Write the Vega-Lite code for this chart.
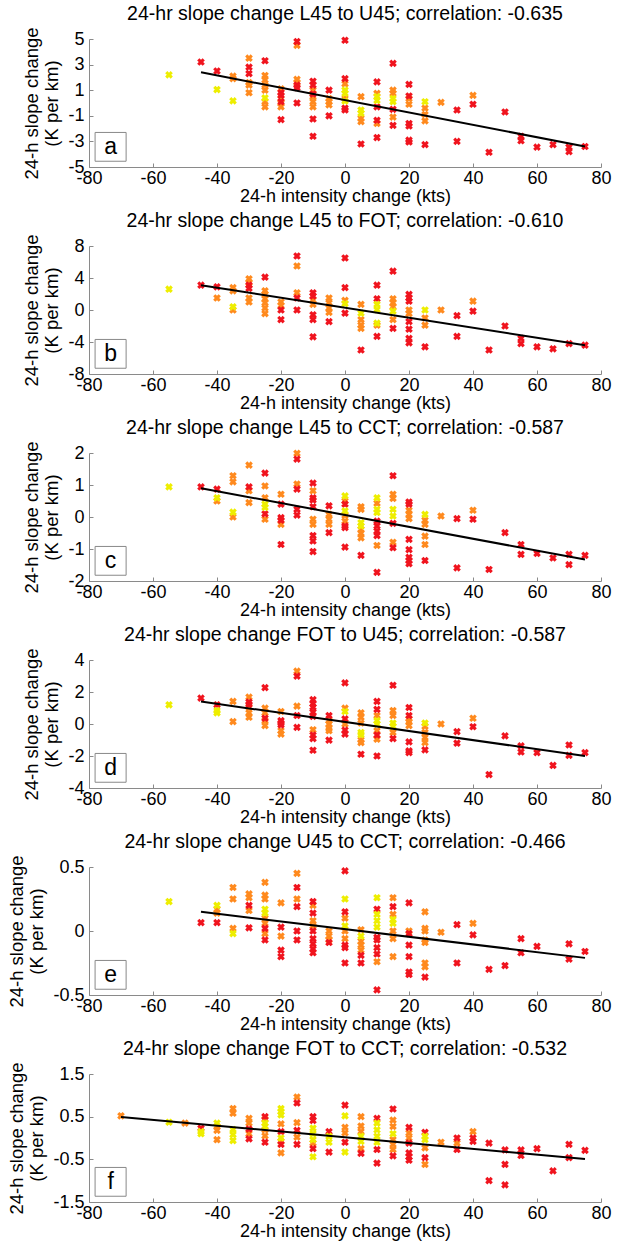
{
"$schema": "https://vega.github.io/schema/vega-lite/v6.json",
"padding": {"left": 7, "top": 4, "right": 5, "bottom": 2},
"config": {
 "font": "Liberation Sans",
 "view": {"stroke": null},
 "concat": {"spacing": 6},
 "title": {"fontSize": 19.5, "fontWeight": "normal", "color": "black", "offset": 2, "anchor": "middle", "frame": "group"},
 "axis": {"domainColor": "#8a8a8a", "tickColor": "#8a8a8a", "tickSize": -4, "labelFontSize": 18, "labelColor": "black", "titleFontSize": 18.5, "titleColor": "black", "titleFontWeight": "normal", "grid": false, "labelOverlap": false, "labelBound": false, "labelFlush": false, "tickCount": 20},
 "axisX": {"labelPadding": 6, "titlePadding": 0, "titleFontSize": 18},
 "axisY": {"labelPadding": 9, "titlePadding": 6}
},
"resolve": {"scale": {"x": "independent", "y": "independent"}},
"datasets": {
"pts": [
{"p":"a","x":-55,"y":2.2,"c":"y"},{"p":"a","x":-45,"y":3.2,"c":"r"},{"p":"a","x":-40,"y":2.5,"c":"r"},{"p":"a","x":-40,"y":1.05,"c":"y"},{"p":"a","x":-35,"y":2.1,"c":"o"},{"p":"a","x":-35,"y":1.9,"c":"o"},{"p":"a","x":-35,"y":0.17,"c":"y"},
{"p":"a","x":-30,"y":3.5,"c":"o"},{"p":"a","x":-30,"y":2.8,"c":"r"},{"p":"a","x":-30,"y":2.3,"c":"r"},{"p":"a","x":-30,"y":1.6,"c":"o"},{"p":"a","x":-30,"y":1.4,"c":"o"},{"p":"a","x":-30,"y":0.8,"c":"o"},
{"p":"a","x":-25,"y":3.3,"c":"r"},{"p":"a","x":-25,"y":2.15,"c":"o"},{"p":"a","x":-25,"y":1.8,"c":"o"},{"p":"a","x":-25,"y":1.4,"c":"o"},{"p":"a","x":-25,"y":1.0,"c":"o"},{"p":"a","x":-25,"y":0.4,"c":"y"},{"p":"a","x":-25,"y":0.1,"c":"o"},{"p":"a","x":-25,"y":-0.3,"c":"o"},
{"p":"a","x":-20,"y":1.1,"c":"o"},{"p":"a","x":-20,"y":0.8,"c":"r"},{"p":"a","x":-20,"y":0.6,"c":"r"},{"p":"a","x":-20,"y":0.35,"c":"o"},{"p":"a","x":-20,"y":0.1,"c":"r"},{"p":"a","x":-20,"y":0,"c":"o"},{"p":"a","x":-20,"y":-0.3,"c":"o"},{"p":"a","x":-20,"y":-1.3,"c":"r"},
{"p":"a","x":-15,"y":4.8,"c":"r"},{"p":"a","x":-15,"y":4.5,"c":"o"},{"p":"a","x":-15,"y":1.85,"c":"o"},{"p":"a","x":-15,"y":1.6,"c":"o"},{"p":"a","x":-15,"y":1.4,"c":"r"},{"p":"a","x":-15,"y":1.2,"c":"r"},{"p":"a","x":-15,"y":0,"c":"r"},
{"p":"a","x":-10,"y":1.7,"c":"r"},{"p":"a","x":-10,"y":1.4,"c":"r"},{"p":"a","x":-10,"y":1.0,"c":"o"},{"p":"a","x":-10,"y":0.7,"c":"r"},{"p":"a","x":-10,"y":0.5,"c":"o"},{"p":"a","x":-10,"y":0.1,"c":"o"},{"p":"a","x":-10,"y":-0.3,"c":"o"},{"p":"a","x":-10,"y":-1.25,"c":"r"},{"p":"a","x":-10,"y":-2.6,"c":"r"},
{"p":"a","x":-5,"y":1.0,"c":"r"},{"p":"a","x":-5,"y":0.35,"c":"o"},{"p":"a","x":-5,"y":0.1,"c":"o"},{"p":"a","x":-5,"y":-0.15,"c":"o"},{"p":"a","x":-5,"y":-1.0,"c":"r"},
{"p":"a","x":0,"y":4.9,"c":"r"},{"p":"a","x":0,"y":1.9,"c":"r"},{"p":"a","x":0,"y":1.5,"c":"o"},{"p":"a","x":0,"y":1.0,"c":"y"},{"p":"a","x":0,"y":0.75,"c":"y"},{"p":"a","x":0,"y":0.35,"c":"o"},{"p":"a","x":0,"y":0.15,"c":"y"},{"p":"a","x":0,"y":-0.4,"c":"r"},{"p":"a","x":0,"y":-0.55,"c":"r"},
{"p":"a","x":5,"y":0.5,"c":"o"},{"p":"a","x":5,"y":-0.55,"c":"y"},{"p":"a","x":5,"y":-0.8,"c":"y"},{"p":"a","x":5,"y":-1.2,"c":"o"},{"p":"a","x":5,"y":-1.45,"c":"o"},{"p":"a","x":5,"y":-3.2,"c":"r"},
{"p":"a","x":10,"y":1.65,"c":"r"},{"p":"a","x":10,"y":0.75,"c":"o"},{"p":"a","x":10,"y":0.5,"c":"y"},{"p":"a","x":10,"y":0.2,"c":"y"},{"p":"a","x":10,"y":-0.3,"c":"r"},{"p":"a","x":10,"y":-1.35,"c":"r"},{"p":"a","x":10,"y":-1.6,"c":"o"},{"p":"a","x":10,"y":-2.7,"c":"r"},
{"p":"a","x":15,"y":3.1,"c":"r"},{"p":"a","x":15,"y":1.0,"c":"o"},{"p":"a","x":15,"y":0.75,"c":"o"},{"p":"a","x":15,"y":0.35,"c":"y"},{"p":"a","x":15,"y":0.1,"c":"y"},{"p":"a","x":15,"y":-0.5,"c":"r"},{"p":"a","x":15,"y":-1.1,"c":"o"},{"p":"a","x":15,"y":-1.75,"c":"r"},
{"p":"a","x":20,"y":1.45,"c":"r"},{"p":"a","x":20,"y":0.55,"c":"r"},{"p":"a","x":20,"y":0.35,"c":"o"},{"p":"a","x":20,"y":-0.1,"c":"o"},{"p":"a","x":20,"y":-1.6,"c":"r"},{"p":"a","x":20,"y":-1.8,"c":"r"},{"p":"a","x":20,"y":-2.9,"c":"r"},{"p":"a","x":20,"y":-3.05,"c":"r"},
{"p":"a","x":25,"y":0.1,"c":"y"},{"p":"a","x":25,"y":-0.4,"c":"o"},{"p":"a","x":25,"y":-0.9,"c":"o"},{"p":"a","x":25,"y":-1.4,"c":"o"},{"p":"a","x":25,"y":-3.25,"c":"r"},
{"p":"a","x":30,"y":0.05,"c":"o"},{"p":"a","x":35,"y":-0.55,"c":"r"},{"p":"a","x":35,"y":-3.0,"c":"r"},{"p":"a","x":40,"y":0.6,"c":"o"},{"p":"a","x":40,"y":-0.1,"c":"r"},{"p":"a","x":45,"y":-3.85,"c":"r"},{"p":"a","x":50,"y":-0.7,"c":"r"},
{"p":"a","x":55,"y":-2.6,"c":"r"},{"p":"a","x":55,"y":-2.95,"c":"r"},{"p":"a","x":60,"y":-3.45,"c":"r"},{"p":"a","x":65,"y":-3.25,"c":"r"},{"p":"a","x":70,"y":-3.45,"c":"r"},{"p":"a","x":70,"y":-3.8,"c":"r"},{"p":"a","x":75,"y":-3.4,"c":"r"},

{"p":"b","x":-55,"y":2.6,"c":"y"},{"p":"b","x":-45,"y":3.1,"c":"r"},{"p":"b","x":-40,"y":2.9,"c":"r"},{"p":"b","x":-40,"y":1.5,"c":"o"},
{"p":"b","x":-35,"y":2.8,"c":"o"},{"p":"b","x":-35,"y":2.4,"c":"o"},{"p":"b","x":-35,"y":0.4,"c":"y"},{"p":"b","x":-35,"y":0,"c":"o"},
{"p":"b","x":-30,"y":3.9,"c":"o"},{"p":"b","x":-30,"y":3.4,"c":"o"},{"p":"b","x":-30,"y":3.1,"c":"r"},{"p":"b","x":-30,"y":2.7,"c":"r"},{"p":"b","x":-30,"y":1.5,"c":"o"},{"p":"b","x":-30,"y":1.0,"c":"o"},
{"p":"b","x":-25,"y":4.1,"c":"r"},{"p":"b","x":-25,"y":2.4,"c":"o"},{"p":"b","x":-25,"y":1.95,"c":"o"},{"p":"b","x":-25,"y":1.4,"c":"o"},{"p":"b","x":-25,"y":0.9,"c":"o"},{"p":"b","x":-25,"y":0.25,"c":"o"},{"p":"b","x":-25,"y":-0.45,"c":"o"},
{"p":"b","x":-20,"y":1.0,"c":"o"},{"p":"b","x":-20,"y":0.55,"c":"o"},{"p":"b","x":-20,"y":0,"c":"r"},{"p":"b","x":-20,"y":-1.2,"c":"r"},
{"p":"b","x":-15,"y":6.75,"c":"r"},{"p":"b","x":-15,"y":5.5,"c":"o"},{"p":"b","x":-15,"y":2.15,"c":"o"},{"p":"b","x":-15,"y":1.5,"c":"r"},{"p":"b","x":-15,"y":0,"c":"r"},
{"p":"b","x":-10,"y":2.15,"c":"r"},{"p":"b","x":-10,"y":1.75,"c":"r"},{"p":"b","x":-10,"y":1.25,"c":"o"},{"p":"b","x":-10,"y":0.7,"c":"o"},{"p":"b","x":-10,"y":-0.6,"c":"r"},{"p":"b","x":-10,"y":-1.2,"c":"r"},{"p":"b","x":-10,"y":-3.35,"c":"r"},
{"p":"b","x":-5,"y":1.5,"c":"o"},{"p":"b","x":-5,"y":0.9,"c":"o"},{"p":"b","x":-5,"y":0.25,"c":"o"},{"p":"b","x":-5,"y":-0.3,"c":"o"},{"p":"b","x":-5,"y":-1.45,"c":"r"},
{"p":"b","x":0,"y":6.5,"c":"r"},{"p":"b","x":0,"y":2.8,"c":"r"},{"p":"b","x":0,"y":1.2,"c":"o"},{"p":"b","x":0,"y":0.8,"c":"y"},{"p":"b","x":0,"y":-0.4,"c":"r"},
{"p":"b","x":5,"y":0.7,"c":"o"},{"p":"b","x":5,"y":-0.4,"c":"y"},{"p":"b","x":5,"y":-1.2,"c":"o"},{"p":"b","x":5,"y":-1.9,"c":"o"},{"p":"b","x":5,"y":-2.3,"c":"o"},{"p":"b","x":5,"y":-5.0,"c":"r"},
{"p":"b","x":10,"y":3.1,"c":"r"},{"p":"b","x":10,"y":1.4,"c":"r"},{"p":"b","x":10,"y":0.7,"c":"y"},{"p":"b","x":10,"y":0.05,"c":"y"},{"p":"b","x":10,"y":-1.65,"c":"y"},{"p":"b","x":10,"y":-1.9,"c":"o"},{"p":"b","x":10,"y":-3.3,"c":"r"},
{"p":"b","x":15,"y":4.85,"c":"r"},{"p":"b","x":15,"y":1.4,"c":"o"},{"p":"b","x":15,"y":0.9,"c":"o"},{"p":"b","x":15,"y":0.4,"c":"o"},{"p":"b","x":15,"y":-0.15,"c":"y"},{"p":"b","x":15,"y":-1.2,"c":"o"},{"p":"b","x":15,"y":-2.3,"c":"r"},
{"p":"b","x":20,"y":1.95,"c":"r"},{"p":"b","x":20,"y":1.5,"c":"r"},{"p":"b","x":20,"y":1.1,"c":"r"},{"p":"b","x":20,"y":0,"c":"o"},{"p":"b","x":20,"y":-0.45,"c":"o"},{"p":"b","x":20,"y":-1.45,"c":"r"},{"p":"b","x":20,"y":-2.4,"c":"r"},{"p":"b","x":20,"y":-3.55,"c":"r"},{"p":"b","x":20,"y":-4.1,"c":"r"},
{"p":"b","x":25,"y":0,"c":"y"},{"p":"b","x":25,"y":-1.0,"c":"o"},{"p":"b","x":25,"y":-1.9,"c":"o"},{"p":"b","x":25,"y":-4.6,"c":"r"},
{"p":"b","x":30,"y":0,"c":"o"},{"p":"b","x":35,"y":-0.7,"c":"r"},{"p":"b","x":35,"y":-3.3,"c":"r"},{"p":"b","x":40,"y":1.1,"c":"o"},{"p":"b","x":40,"y":-0.15,"c":"r"},{"p":"b","x":45,"y":-5.0,"c":"r"},{"p":"b","x":50,"y":-2.0,"c":"r"},
{"p":"b","x":55,"y":-3.55,"c":"r"},{"p":"b","x":55,"y":-4.2,"c":"r"},{"p":"b","x":60,"y":-4.6,"c":"r"},{"p":"b","x":65,"y":-4.85,"c":"r"},{"p":"b","x":70,"y":-4.2,"c":"r"},{"p":"b","x":75,"y":-4.4,"c":"r"},

{"p":"c","x":-55,"y":0.94,"c":"y"},{"p":"c","x":-45,"y":0.94,"c":"r"},{"p":"c","x":-40,"y":0.87,"c":"r"},{"p":"c","x":-40,"y":0.6,"c":"y"},{"p":"c","x":-40,"y":0.5,"c":"o"},
{"p":"c","x":-35,"y":1.29,"c":"o"},{"p":"c","x":-35,"y":1.1,"c":"o"},{"p":"c","x":-35,"y":0.15,"c":"y"},{"p":"c","x":-35,"y":0,"c":"o"},
{"p":"c","x":-30,"y":1.62,"c":"o"},{"p":"c","x":-30,"y":0.94,"c":"r"},{"p":"c","x":-30,"y":0.82,"c":"o"},{"p":"c","x":-30,"y":0.45,"c":"o"},
{"p":"c","x":-25,"y":1.37,"c":"r"},{"p":"c","x":-25,"y":0.97,"c":"o"},{"p":"c","x":-25,"y":0.6,"c":"o"},{"p":"c","x":-25,"y":0.4,"c":"y"},{"p":"c","x":-25,"y":0.3,"c":"y"},{"p":"c","x":-25,"y":0.1,"c":"r"},{"p":"c","x":-25,"y":-0.07,"c":"o"},
{"p":"c","x":-20,"y":0.71,"c":"o"},{"p":"c","x":-20,"y":0.4,"c":"r"},{"p":"c","x":-20,"y":-0.02,"c":"r"},{"p":"c","x":-20,"y":-0.1,"c":"r"},{"p":"c","x":-20,"y":-0.23,"c":"o"},{"p":"c","x":-20,"y":-0.86,"c":"r"},
{"p":"c","x":-15,"y":1.99,"c":"o"},{"p":"c","x":-15,"y":1.81,"c":"r"},{"p":"c","x":-15,"y":1.03,"c":"o"},{"p":"c","x":-15,"y":0.87,"c":"r"},{"p":"c","x":-15,"y":0.24,"c":"r"},{"p":"c","x":-15,"y":0.06,"c":"r"},
{"p":"c","x":-10,"y":1.06,"c":"r"},{"p":"c","x":-10,"y":0.82,"c":"o"},{"p":"c","x":-10,"y":0.6,"c":"r"},{"p":"c","x":-10,"y":0.53,"c":"r"},{"p":"c","x":-10,"y":0.32,"c":"r"},{"p":"c","x":-10,"y":-0.07,"c":"o"},{"p":"c","x":-10,"y":-0.23,"c":"o"},{"p":"c","x":-10,"y":-0.58,"c":"r"},{"p":"c","x":-10,"y":-0.75,"c":"r"},{"p":"c","x":-10,"y":-1.08,"c":"r"},
{"p":"c","x":-5,"y":0.35,"c":"r"},{"p":"c","x":-5,"y":0.08,"c":"o"},{"p":"c","x":-5,"y":-0.07,"c":"o"},{"p":"c","x":-5,"y":-0.23,"c":"o"},{"p":"c","x":-5,"y":-0.49,"c":"r"},
{"p":"c","x":0,"y":0.66,"c":"y"},{"p":"c","x":0,"y":0.5,"c":"o"},{"p":"c","x":0,"y":0.4,"c":"r"},{"p":"c","x":0,"y":0.19,"c":"y"},{"p":"c","x":0,"y":0.05,"c":"o"},{"p":"c","x":0,"y":-0.13,"c":"o"},{"p":"c","x":0,"y":-0.28,"c":"r"},{"p":"c","x":0,"y":-0.33,"c":"r"},{"p":"c","x":0,"y":-0.94,"c":"r"},
{"p":"c","x":5,"y":0.32,"c":"o"},{"p":"c","x":5,"y":0.24,"c":"o"},{"p":"c","x":5,"y":-0.18,"c":"y"},{"p":"c","x":5,"y":-0.28,"c":"y"},{"p":"c","x":5,"y":-0.39,"c":"o"},{"p":"c","x":5,"y":-0.51,"c":"o"},{"p":"c","x":5,"y":-0.65,"c":"o"},{"p":"c","x":5,"y":-1.2,"c":"r"},
{"p":"c","x":10,"y":0.6,"c":"y"},{"p":"c","x":10,"y":0.43,"c":"o"},{"p":"c","x":10,"y":0.24,"c":"y"},{"p":"c","x":10,"y":0.14,"c":"y"},{"p":"c","x":10,"y":-0.13,"c":"r"},{"p":"c","x":10,"y":-0.28,"c":"r"},{"p":"c","x":10,"y":-0.44,"c":"r"},{"p":"c","x":10,"y":-0.58,"c":"r"},{"p":"c","x":10,"y":-0.89,"c":"o"},{"p":"c","x":10,"y":-1.73,"c":"r"},
{"p":"c","x":15,"y":1.29,"c":"r"},{"p":"c","x":15,"y":0.71,"c":"o"},{"p":"c","x":15,"y":0.58,"c":"o"},{"p":"c","x":15,"y":0.24,"c":"y"},{"p":"c","x":15,"y":0.03,"c":"y"},{"p":"c","x":15,"y":-0.2,"c":"r"},{"p":"c","x":15,"y":-0.79,"c":"o"},{"p":"c","x":15,"y":-0.96,"c":"r"},
{"p":"c","x":20,"y":0.47,"c":"r"},{"p":"c","x":20,"y":0.4,"c":"r"},{"p":"c","x":20,"y":0.21,"c":"o"},{"p":"c","x":20,"y":0.08,"c":"o"},{"p":"c","x":20,"y":-0.05,"c":"o"},{"p":"c","x":20,"y":-0.7,"c":"r"},{"p":"c","x":20,"y":-1.02,"c":"r"},{"p":"c","x":20,"y":-1.26,"c":"r"},{"p":"c","x":20,"y":-1.36,"c":"r"},{"p":"c","x":20,"y":-1.46,"c":"r"},
{"p":"c","x":25,"y":0.08,"c":"y"},{"p":"c","x":25,"y":-0.1,"c":"o"},{"p":"c","x":25,"y":-0.23,"c":"o"},{"p":"c","x":25,"y":-0.6,"c":"o"},{"p":"c","x":25,"y":-0.86,"c":"o"},{"p":"c","x":25,"y":-1.36,"c":"r"},
{"p":"c","x":30,"y":0.03,"c":"o"},{"p":"c","x":35,"y":-0.05,"c":"r"},{"p":"c","x":35,"y":-1.59,"c":"r"},{"p":"c","x":40,"y":0.21,"c":"o"},{"p":"c","x":40,"y":-0.07,"c":"r"},{"p":"c","x":45,"y":-1.64,"c":"r"},{"p":"c","x":50,"y":-0.49,"c":"r"},
{"p":"c","x":55,"y":-0.86,"c":"r"},{"p":"c","x":55,"y":-1.17,"c":"r"},{"p":"c","x":60,"y":-1.14,"c":"r"},{"p":"c","x":65,"y":-1.28,"c":"r"},{"p":"c","x":70,"y":-1.17,"c":"r"},{"p":"c","x":70,"y":-1.49,"c":"r"},{"p":"c","x":75,"y":-1.2,"c":"r"},

{"p":"d","x":-55,"y":1.2,"c":"y"},{"p":"d","x":-45,"y":1.62,"c":"r"},{"p":"d","x":-40,"y":1.2,"c":"r"},{"p":"d","x":-40,"y":0.84,"c":"y"},{"p":"d","x":-40,"y":0.7,"c":"y"},
{"p":"d","x":-35,"y":1.41,"c":"o"},{"p":"d","x":-35,"y":0.15,"c":"o"},
{"p":"d","x":-30,"y":1.68,"c":"o"},{"p":"d","x":-30,"y":1.37,"c":"r"},{"p":"d","x":-30,"y":1.22,"c":"r"},{"p":"d","x":-30,"y":1.05,"c":"o"},{"p":"d","x":-30,"y":0.7,"c":"o"},{"p":"d","x":-30,"y":0.42,"c":"o"},
{"p":"d","x":-25,"y":2.27,"c":"r"},{"p":"d","x":-25,"y":0.99,"c":"o"},{"p":"d","x":-25,"y":0.7,"c":"o"},{"p":"d","x":-25,"y":0.36,"c":"r"},{"p":"d","x":-25,"y":0.21,"c":"o"},{"p":"d","x":-25,"y":-0.1,"c":"o"},
{"p":"d","x":-20,"y":0.78,"c":"o"},{"p":"d","x":-20,"y":0.21,"c":"r"},{"p":"d","x":-20,"y":0.06,"c":"r"},{"p":"d","x":-20,"y":-0.06,"c":"r"},{"p":"d","x":-20,"y":-0.42,"c":"o"},{"p":"d","x":-20,"y":-0.63,"c":"o"},
{"p":"d","x":-15,"y":3.3,"c":"o"},{"p":"d","x":-15,"y":2.99,"c":"r"},{"p":"d","x":-15,"y":1.12,"c":"o"},{"p":"d","x":-15,"y":0.53,"c":"r"},{"p":"d","x":-15,"y":-0.21,"c":"r"},
{"p":"d","x":-10,"y":1.52,"c":"r"},{"p":"d","x":-10,"y":1.26,"c":"r"},{"p":"d","x":-10,"y":1.05,"c":"r"},{"p":"d","x":-10,"y":0.74,"c":"r"},{"p":"d","x":-10,"y":0.48,"c":"r"},{"p":"d","x":-10,"y":-0.36,"c":"o"},{"p":"d","x":-10,"y":-0.69,"c":"r"},{"p":"d","x":-10,"y":-0.91,"c":"r"},{"p":"d","x":-10,"y":-1.64,"c":"r"},
{"p":"d","x":-5,"y":0.53,"c":"r"},{"p":"d","x":-5,"y":0.21,"c":"o"},{"p":"d","x":-5,"y":0,"c":"o"},{"p":"d","x":-5,"y":-0.27,"c":"o"},{"p":"d","x":-5,"y":-0.42,"c":"o"},{"p":"d","x":-5,"y":-1.01,"c":"r"},
{"p":"d","x":0,"y":2.57,"c":"r"},{"p":"d","x":0,"y":0.99,"c":"o"},{"p":"d","x":0,"y":0.78,"c":"y"},{"p":"d","x":0,"y":0.32,"c":"r"},{"p":"d","x":0,"y":0,"c":"o"},{"p":"d","x":0,"y":-0.38,"c":"r"},{"p":"d","x":0,"y":-0.63,"c":"r"},
{"p":"d","x":5,"y":0.7,"c":"o"},{"p":"d","x":5,"y":0.42,"c":"o"},{"p":"d","x":5,"y":0.06,"c":"o"},{"p":"d","x":5,"y":-0.53,"c":"y"},{"p":"d","x":5,"y":-0.67,"c":"y"},{"p":"d","x":5,"y":-0.99,"c":"o"},{"p":"d","x":5,"y":-1.16,"c":"o"},{"p":"d","x":5,"y":-1.89,"c":"r"},
{"p":"d","x":10,"y":1.41,"c":"r"},{"p":"d","x":10,"y":0.91,"c":"r"},{"p":"d","x":10,"y":0.53,"c":"o"},{"p":"d","x":10,"y":0.21,"c":"y"},{"p":"d","x":10,"y":0,"c":"y"},{"p":"d","x":10,"y":-0.42,"c":"o"},{"p":"d","x":10,"y":-0.69,"c":"r"},{"p":"d","x":10,"y":-0.95,"c":"o"},{"p":"d","x":10,"y":-2.0,"c":"r"},
{"p":"d","x":15,"y":2.42,"c":"r"},{"p":"d","x":15,"y":0.84,"c":"o"},{"p":"d","x":15,"y":0.53,"c":"o"},{"p":"d","x":15,"y":0.06,"c":"y"},{"p":"d","x":15,"y":-0.15,"c":"y"},{"p":"d","x":15,"y":-0.53,"c":"o"},{"p":"d","x":15,"y":-0.91,"c":"r"},
{"p":"d","x":20,"y":1.03,"c":"r"},{"p":"d","x":20,"y":0.53,"c":"r"},{"p":"d","x":20,"y":0.32,"c":"o"},{"p":"d","x":20,"y":0.15,"c":"o"},{"p":"d","x":20,"y":-0.1,"c":"o"},{"p":"d","x":20,"y":-1.12,"c":"r"},{"p":"d","x":20,"y":-1.68,"c":"r"},{"p":"d","x":20,"y":-1.79,"c":"r"},
{"p":"d","x":25,"y":0.06,"c":"y"},{"p":"d","x":25,"y":-0.15,"c":"o"},{"p":"d","x":25,"y":-0.53,"c":"o"},{"p":"d","x":25,"y":-0.84,"c":"o"},{"p":"d","x":25,"y":-1.16,"c":"o"},{"p":"d","x":25,"y":-1.62,"c":"r"},
{"p":"d","x":30,"y":0,"c":"o"},{"p":"d","x":35,"y":-0.48,"c":"r"},{"p":"d","x":35,"y":-1.2,"c":"r"},{"p":"d","x":40,"y":0.36,"c":"o"},{"p":"d","x":40,"y":-0.17,"c":"r"},{"p":"d","x":45,"y":-3.16,"c":"r"},{"p":"d","x":50,"y":-0.74,"c":"r"},
{"p":"d","x":55,"y":-1.37,"c":"r"},{"p":"d","x":55,"y":-1.75,"c":"r"},{"p":"d","x":60,"y":-1.79,"c":"r"},{"p":"d","x":65,"y":-2.59,"c":"r"},{"p":"d","x":70,"y":-1.31,"c":"r"},{"p":"d","x":70,"y":-1.96,"c":"r"},{"p":"d","x":75,"y":-1.79,"c":"r"},

{"p":"e","x":-55,"y":0.23,"c":"y"},{"p":"e","x":-45,"y":0.065,"c":"r"},{"p":"e","x":-40,"y":0.2,"c":"y"},{"p":"e","x":-40,"y":0.17,"c":"o"},{"p":"e","x":-40,"y":0.14,"c":"o"},{"p":"e","x":-40,"y":0.065,"c":"r"},
{"p":"e","x":-35,"y":0.34,"c":"o"},{"p":"e","x":-35,"y":0.25,"c":"o"},{"p":"e","x":-35,"y":0.02,"c":"o"},{"p":"e","x":-35,"y":-0.02,"c":"y"},
{"p":"e","x":-30,"y":0.29,"c":"o"},{"p":"e","x":-30,"y":0.26,"c":"o"},{"p":"e","x":-30,"y":0.2,"c":"r"},{"p":"e","x":-30,"y":0.16,"c":"o"},{"p":"e","x":-30,"y":0.025,"c":"r"},
{"p":"e","x":-25,"y":0.38,"c":"o"},{"p":"e","x":-25,"y":0.28,"c":"o"},{"p":"e","x":-25,"y":0.25,"c":"o"},{"p":"e","x":-25,"y":0.17,"c":"y"},{"p":"e","x":-25,"y":0.14,"c":"y"},{"p":"e","x":-25,"y":0.1,"c":"o"},{"p":"e","x":-25,"y":0.06,"c":"o"},{"p":"e","x":-25,"y":0.02,"c":"r"},{"p":"e","x":-25,"y":-0.02,"c":"o"},{"p":"e","x":-25,"y":-0.07,"c":"r"},
{"p":"e","x":-20,"y":0.22,"c":"o"},{"p":"e","x":-20,"y":0.03,"c":"r"},{"p":"e","x":-20,"y":-0.04,"c":"o"},{"p":"e","x":-20,"y":-0.15,"c":"r"},{"p":"e","x":-20,"y":-0.2,"c":"r"},
{"p":"e","x":-15,"y":0.45,"c":"o"},{"p":"e","x":-15,"y":0.34,"c":"r"},{"p":"e","x":-15,"y":0.25,"c":"o"},{"p":"e","x":-15,"y":0.19,"c":"r"},{"p":"e","x":-15,"y":0,"c":"r"},{"p":"e","x":-15,"y":-0.07,"c":"r"},
{"p":"e","x":-10,"y":0.23,"c":"r"},{"p":"e","x":-10,"y":0.2,"c":"o"},{"p":"e","x":-10,"y":0.14,"c":"r"},{"p":"e","x":-10,"y":0.08,"c":"o"},{"p":"e","x":-10,"y":0.04,"c":"o"},{"p":"e","x":-10,"y":0,"c":"r"},{"p":"e","x":-10,"y":-0.06,"c":"r"},{"p":"e","x":-10,"y":-0.1,"c":"r"},{"p":"e","x":-10,"y":-0.14,"c":"r"},{"p":"e","x":-10,"y":-0.17,"c":"r"},
{"p":"e","x":-5,"y":0,"c":"o"},{"p":"e","x":-5,"y":-0.04,"c":"o"},{"p":"e","x":-5,"y":-0.07,"c":"o"},{"p":"e","x":-5,"y":-0.09,"c":"r"},
{"p":"e","x":0,"y":0.47,"c":"r"},{"p":"e","x":0,"y":0.25,"c":"y"},{"p":"e","x":0,"y":0.15,"c":"r"},{"p":"e","x":0,"y":0.1,"c":"o"},{"p":"e","x":0,"y":0.04,"c":"y"},{"p":"e","x":0,"y":0,"c":"o"},{"p":"e","x":0,"y":-0.06,"c":"o"},{"p":"e","x":0,"y":-0.11,"c":"r"},{"p":"e","x":0,"y":-0.13,"c":"r"},{"p":"e","x":0,"y":-0.25,"c":"r"},
{"p":"e","x":5,"y":0.01,"c":"o"},{"p":"e","x":5,"y":-0.04,"c":"y"},{"p":"e","x":5,"y":-0.08,"c":"o"},{"p":"e","x":5,"y":-0.11,"c":"o"},{"p":"e","x":5,"y":-0.15,"c":"o"},{"p":"e","x":5,"y":-0.19,"c":"r"},{"p":"e","x":5,"y":-0.25,"c":"r"},
{"p":"e","x":10,"y":0.26,"c":"y"},{"p":"e","x":10,"y":0.17,"c":"r"},{"p":"e","x":10,"y":0.13,"c":"y"},{"p":"e","x":10,"y":0.08,"c":"y"},{"p":"e","x":10,"y":0.03,"c":"y"},{"p":"e","x":10,"y":-0.05,"c":"r"},{"p":"e","x":10,"y":-0.07,"c":"r"},{"p":"e","x":10,"y":-0.13,"c":"r"},{"p":"e","x":10,"y":-0.18,"c":"r"},{"p":"e","x":10,"y":-0.24,"c":"o"},{"p":"e","x":10,"y":-0.46,"c":"r"},
{"p":"e","x":15,"y":0.26,"c":"o"},{"p":"e","x":15,"y":0.19,"c":"r"},{"p":"e","x":15,"y":0.13,"c":"o"},{"p":"e","x":15,"y":0.09,"c":"y"},{"p":"e","x":15,"y":0.06,"c":"y"},{"p":"e","x":15,"y":0,"c":"o"},{"p":"e","x":15,"y":-0.06,"c":"o"},{"p":"e","x":15,"y":-0.2,"c":"o"},
{"p":"e","x":20,"y":0.22,"c":"r"},{"p":"e","x":20,"y":0,"c":"o"},{"p":"e","x":20,"y":-0.02,"c":"r"},{"p":"e","x":20,"y":-0.11,"c":"r"},{"p":"e","x":20,"y":-0.2,"c":"r"},{"p":"e","x":20,"y":-0.32,"c":"r"},{"p":"e","x":20,"y":-0.34,"c":"r"},
{"p":"e","x":25,"y":0.15,"c":"o"},{"p":"e","x":25,"y":0.02,"c":"o"},{"p":"e","x":25,"y":0,"c":"o"},{"p":"e","x":25,"y":-0.07,"c":"o"},{"p":"e","x":25,"y":-0.09,"c":"o"},{"p":"e","x":25,"y":-0.25,"c":"o"},{"p":"e","x":25,"y":-0.28,"c":"o"},{"p":"e","x":25,"y":-0.36,"c":"r"},
{"p":"e","x":30,"y":-0.01,"c":"o"},{"p":"e","x":35,"y":0.05,"c":"r"},{"p":"e","x":35,"y":-0.25,"c":"r"},{"p":"e","x":40,"y":0.06,"c":"o"},{"p":"e","x":40,"y":-0.03,"c":"r"},{"p":"e","x":45,"y":-0.3,"c":"r"},{"p":"e","x":50,"y":-0.27,"c":"r"},
{"p":"e","x":55,"y":-0.06,"c":"r"},{"p":"e","x":55,"y":-0.17,"c":"r"},{"p":"e","x":60,"y":-0.12,"c":"r"},{"p":"e","x":70,"y":-0.1,"c":"r"},{"p":"e","x":70,"y":-0.22,"c":"r"},{"p":"e","x":75,"y":-0.16,"c":"r"},

{"p":"f","x":-70,"y":0.52,"c":"o"},{"p":"f","x":-55,"y":0.37,"c":"y"},{"p":"f","x":-50,"y":0.35,"c":"o"},
{"p":"f","x":-45,"y":0.23,"c":"r"},{"p":"f","x":-45,"y":0.15,"c":"y"},{"p":"f","x":-45,"y":0.1,"c":"y"},
{"p":"f","x":-40,"y":0.35,"c":"y"},{"p":"f","x":-40,"y":0.27,"c":"o"},{"p":"f","x":-40,"y":0.18,"c":"o"},{"p":"f","x":-40,"y":-0.04,"c":"o"},
{"p":"f","x":-35,"y":0.69,"c":"o"},{"p":"f","x":-35,"y":0.58,"c":"o"},{"p":"f","x":-35,"y":0.2,"c":"y"},{"p":"f","x":-35,"y":0.08,"c":"y"},{"p":"f","x":-35,"y":-0.06,"c":"y"},
{"p":"f","x":-30,"y":0.46,"c":"o"},{"p":"f","x":-30,"y":0.35,"c":"o"},{"p":"f","x":-30,"y":0.21,"c":"r"},{"p":"f","x":-30,"y":0.1,"c":"o"},{"p":"f","x":-30,"y":-0.02,"c":"r"},
{"p":"f","x":-25,"y":0.5,"c":"r"},{"p":"f","x":-25,"y":0.44,"c":"o"},{"p":"f","x":-25,"y":0.35,"c":"y"},{"p":"f","x":-25,"y":0.27,"c":"y"},{"p":"f","x":-25,"y":0.19,"c":"o"},{"p":"f","x":-25,"y":0.05,"c":"o"},{"p":"f","x":-25,"y":-0.1,"c":"r"},
{"p":"f","x":-20,"y":0.69,"c":"y"},{"p":"f","x":-20,"y":0.62,"c":"y"},{"p":"f","x":-20,"y":0.54,"c":"y"},{"p":"f","x":-20,"y":0.33,"c":"o"},{"p":"f","x":-20,"y":0.15,"c":"r"},{"p":"f","x":-20,"y":0,"c":"y"},{"p":"f","x":-20,"y":-0.08,"c":"o"},{"p":"f","x":-20,"y":-0.15,"c":"r"},{"p":"f","x":-20,"y":-0.35,"c":"o"},
{"p":"f","x":-15,"y":0.96,"c":"o"},{"p":"f","x":-15,"y":0.82,"c":"r"},{"p":"f","x":-15,"y":0.36,"c":"o"},{"p":"f","x":-15,"y":0.18,"c":"r"},{"p":"f","x":-15,"y":0.02,"c":"o"},{"p":"f","x":-15,"y":-0.15,"c":"r"},
{"p":"f","x":-10,"y":0.5,"c":"r"},{"p":"f","x":-10,"y":0.41,"c":"r"},{"p":"f","x":-10,"y":0.23,"c":"y"},{"p":"f","x":-10,"y":0.1,"c":"y"},{"p":"f","x":-10,"y":-0.04,"c":"y"},{"p":"f","x":-10,"y":-0.12,"c":"o"},{"p":"f","x":-10,"y":-0.25,"c":"r"},{"p":"f","x":-10,"y":-0.44,"c":"y"},
{"p":"f","x":-5,"y":0.15,"c":"r"},{"p":"f","x":-5,"y":0.04,"c":"y"},{"p":"f","x":-5,"y":-0.1,"c":"y"},{"p":"f","x":-5,"y":-0.33,"c":"r"},
{"p":"f","x":0,"y":0.77,"c":"r"},{"p":"f","x":0,"y":0.52,"c":"y"},{"p":"f","x":0,"y":0.25,"c":"o"},{"p":"f","x":0,"y":0.12,"c":"o"},{"p":"f","x":0,"y":-0.1,"c":"r"},{"p":"f","x":0,"y":-0.33,"c":"y"},
{"p":"f","x":5,"y":0.5,"c":"o"},{"p":"f","x":5,"y":0.28,"c":"o"},{"p":"f","x":5,"y":0.15,"c":"o"},{"p":"f","x":5,"y":0.04,"c":"y"},{"p":"f","x":5,"y":-0.08,"c":"y"},{"p":"f","x":5,"y":-0.25,"c":"o"},{"p":"f","x":5,"y":-0.36,"c":"r"},
{"p":"f","x":10,"y":0.46,"c":"r"},{"p":"f","x":10,"y":0.35,"c":"y"},{"p":"f","x":10,"y":0.19,"c":"y"},{"p":"f","x":10,"y":0.04,"c":"y"},{"p":"f","x":10,"y":-0.1,"c":"y"},{"p":"f","x":10,"y":-0.27,"c":"r"},{"p":"f","x":10,"y":-0.59,"c":"r"},
{"p":"f","x":15,"y":0.68,"c":"r"},{"p":"f","x":15,"y":0.42,"c":"o"},{"p":"f","x":15,"y":0.27,"c":"o"},{"p":"f","x":15,"y":0.1,"c":"y"},{"p":"f","x":15,"y":-0.04,"c":"o"},{"p":"f","x":15,"y":-0.15,"c":"o"},{"p":"f","x":15,"y":-0.27,"c":"o"},{"p":"f","x":15,"y":-0.42,"c":"r"},
{"p":"f","x":20,"y":0.25,"c":"r"},{"p":"f","x":20,"y":0.12,"c":"o"},{"p":"f","x":20,"y":0,"c":"o"},{"p":"f","x":20,"y":-0.12,"c":"r"},{"p":"f","x":20,"y":-0.35,"c":"r"},{"p":"f","x":20,"y":-0.44,"c":"r"},{"p":"f","x":20,"y":-0.52,"c":"r"},
{"p":"f","x":25,"y":0.13,"c":"r"},{"p":"f","x":25,"y":0.04,"c":"y"},{"p":"f","x":25,"y":-0.04,"c":"y"},{"p":"f","x":25,"y":-0.23,"c":"o"},{"p":"f","x":25,"y":-0.46,"c":"r"},{"p":"f","x":25,"y":-0.62,"c":"o"},
{"p":"f","x":30,"y":-0.1,"c":"o"},{"p":"f","x":35,"y":0,"c":"r"},{"p":"f","x":35,"y":-0.12,"c":"o"},{"p":"f","x":35,"y":-0.27,"c":"r"},{"p":"f","x":40,"y":0.15,"c":"o"},{"p":"f","x":40,"y":0,"c":"r"},{"p":"f","x":40,"y":-0.08,"c":"r"},
{"p":"f","x":45,"y":-0.12,"c":"r"},{"p":"f","x":45,"y":-1.0,"c":"r"},{"p":"f","x":50,"y":-0.28,"c":"r"},{"p":"f","x":50,"y":-0.62,"c":"r"},{"p":"f","x":50,"y":-1.1,"c":"r"},
{"p":"f","x":55,"y":-0.28,"c":"r"},{"p":"f","x":55,"y":-0.41,"c":"r"},{"p":"f","x":60,"y":-0.25,"c":"r"},{"p":"f","x":65,"y":-0.77,"c":"r"},{"p":"f","x":70,"y":-0.15,"c":"r"},{"p":"f","x":70,"y":-0.46,"c":"r"},{"p":"f","x":75,"y":-0.29,"c":"r"}
],
"lines": [
{"p":"a","x":-45,"y":2.4},{"p":"a","x":75,"y":-3.4},
{"p":"b","x":-45,"y":3.1},{"p":"b","x":75,"y":-4.4},
{"p":"c","x":-45,"y":0.9},{"p":"c","x":75,"y":-1.33},
{"p":"d","x":-45,"y":1.4},{"p":"d","x":75,"y":-2.0},
{"p":"e","x":-45,"y":0.15},{"p":"e","x":75,"y":-0.21},
{"p":"f","x":-70,"y":0.49},{"p":"f","x":75,"y":-0.49}
]
},
"vconcat": [
{"title": "24-hr slope change L45 to U45; correlation: -0.635", "width": 512, "height": 128,
 "layer": [
  {"data": {"name": "pts"}, "transform": [{"filter": "datum.p == 'a'"}],
   "mark": {"type": "point", "shape": "cross", "angle": 45, "filled": true, "size": 60, "opacity": 1},
   "encoding": {"x": {"field": "x", "type": "quantitative", "scale": {"domain": [-80, 80], "nice": false, "zero": false}, "axis": {"values": [-80,-60,-40,-20,0,20,40,60,80], "tickCount": 20, "title": "24-h intensity change (kts)", "labelOverlap": false, "labelExpr": "'' + datum.value"}},
    "y": {"field": "y", "type": "quantitative", "scale": {"domain": [-5, 5], "nice": false, "zero": false}, "axis": {"values": [5,3,1,-1,-3,-5], "tickCount": 20, "title": ["24-h slope change", "(K per km)"], "labelOverlap": false, "labelExpr": "'' + datum.value"}},
    "color": {"field": "c", "type": "nominal", "scale": {"domain": ["o","r","y"], "range": ["#ff8a1e","#f0141e","#eeee00"]}, "legend": null},
    "order": {"field": "c"}}},
  {"data": {"name": "lines"}, "transform": [{"filter": "datum.p == 'a'"}], "mark": {"type": "line", "color": "black", "strokeWidth": 2}, "encoding": {"x": {"field": "x", "type": "quantitative"}, "y": {"field": "y", "type": "quantitative"}}},
  {"data": {"values": [{}]}, "mark": {"type": "rect", "fill": "white", "stroke": "#888888", "strokeWidth": 1}, "encoding": {"x": {"datum": -78.1}, "x2": {"datum": -68.4}, "y": {"datum": -2.3}, "y2": {"datum": -4.55}}},
  {"data": {"values": [{}]}, "mark": {"type": "text", "fontSize": 23, "baseline": "middle", "align": "center", "color": "black"}, "encoding": {"x": {"datum": -73.25}, "y": {"datum": -3.45}, "text": {"value": "a"}}}
 ]},
{"title": "24-hr slope change L45 to FOT; correlation: -0.610", "width": 512, "height": 128,
 "layer": [
  {"data": {"name": "pts"}, "transform": [{"filter": "datum.p == 'b'"}],
   "mark": {"type": "point", "shape": "cross", "angle": 45, "filled": true, "size": 60, "opacity": 1},
   "encoding": {"x": {"field": "x", "type": "quantitative", "scale": {"domain": [-80, 80], "nice": false, "zero": false}, "axis": {"values": [-80,-60,-40,-20,0,20,40,60,80], "tickCount": 20, "title": "24-h intensity change (kts)", "labelOverlap": false, "labelExpr": "'' + datum.value"}},
    "y": {"field": "y", "type": "quantitative", "scale": {"domain": [-8, 8], "nice": false, "zero": false}, "axis": {"values": [8,4,0,-4,-8], "tickCount": 20, "title": ["24-h slope change", "(K per km)"], "labelOverlap": false, "labelExpr": "'' + datum.value"}},
    "color": {"field": "c", "type": "nominal", "scale": {"domain": ["o","r","y"], "range": ["#ff8a1e","#f0141e","#eeee00"]}, "legend": null},
    "order": {"field": "c"}}},
  {"data": {"name": "lines"}, "transform": [{"filter": "datum.p == 'b'"}], "mark": {"type": "line", "color": "black", "strokeWidth": 2}, "encoding": {"x": {"field": "x", "type": "quantitative"}, "y": {"field": "y", "type": "quantitative"}}},
  {"data": {"values": [{}]}, "mark": {"type": "rect", "fill": "white", "stroke": "#888888", "strokeWidth": 1}, "encoding": {"x": {"datum": -78.1}, "x2": {"datum": -68.4}, "y": {"datum": -3.68}, "y2": {"datum": -7.28}}},
  {"data": {"values": [{}]}, "mark": {"type": "text", "fontSize": 23, "baseline": "middle", "align": "center", "color": "black"}, "encoding": {"x": {"datum": -73.25}, "y": {"datum": -5.52}, "text": {"value": "b"}}}
 ]},
{"title": "24-hr slope change L45 to CCT; correlation: -0.587", "width": 512, "height": 128,
 "layer": [
  {"data": {"name": "pts"}, "transform": [{"filter": "datum.p == 'c'"}],
   "mark": {"type": "point", "shape": "cross", "angle": 45, "filled": true, "size": 60, "opacity": 1},
   "encoding": {"x": {"field": "x", "type": "quantitative", "scale": {"domain": [-80, 80], "nice": false, "zero": false}, "axis": {"values": [-80,-60,-40,-20,0,20,40,60,80], "tickCount": 20, "title": "24-h intensity change (kts)", "labelOverlap": false, "labelExpr": "'' + datum.value"}},
    "y": {"field": "y", "type": "quantitative", "scale": {"domain": [-2, 2], "nice": false, "zero": false}, "axis": {"values": [2,1,0,-1,-2], "tickCount": 20, "title": ["24-h slope change", "(K per km)"], "labelOverlap": false, "labelExpr": "'' + datum.value"}},
    "color": {"field": "c", "type": "nominal", "scale": {"domain": ["o","r","y"], "range": ["#ff8a1e","#f0141e","#eeee00"]}, "legend": null},
    "order": {"field": "c"}}},
  {"data": {"name": "lines"}, "transform": [{"filter": "datum.p == 'c'"}], "mark": {"type": "line", "color": "black", "strokeWidth": 2}, "encoding": {"x": {"field": "x", "type": "quantitative"}, "y": {"field": "y", "type": "quantitative"}}},
  {"data": {"values": [{}]}, "mark": {"type": "rect", "fill": "white", "stroke": "#888888", "strokeWidth": 1}, "encoding": {"x": {"datum": -78.1}, "x2": {"datum": -68.4}, "y": {"datum": -0.92}, "y2": {"datum": -1.82}}},
  {"data": {"values": [{}]}, "mark": {"type": "text", "fontSize": 23, "baseline": "middle", "align": "center", "color": "black"}, "encoding": {"x": {"datum": -73.25}, "y": {"datum": -1.38}, "text": {"value": "c"}}}
 ]},
{"title": "24-hr slope change FOT to U45; correlation: -0.587", "width": 512, "height": 128,
 "layer": [
  {"data": {"name": "pts"}, "transform": [{"filter": "datum.p == 'd'"}],
   "mark": {"type": "point", "shape": "cross", "angle": 45, "filled": true, "size": 60, "opacity": 1},
   "encoding": {"x": {"field": "x", "type": "quantitative", "scale": {"domain": [-80, 80], "nice": false, "zero": false}, "axis": {"values": [-80,-60,-40,-20,0,20,40,60,80], "tickCount": 20, "title": "24-h intensity change (kts)", "labelOverlap": false, "labelExpr": "'' + datum.value"}},
    "y": {"field": "y", "type": "quantitative", "scale": {"domain": [-4, 4], "nice": false, "zero": false}, "axis": {"values": [4,2,0,-2,-4], "tickCount": 20, "title": ["24-h slope change", "(K per km)"], "labelOverlap": false, "labelExpr": "'' + datum.value"}},
    "color": {"field": "c", "type": "nominal", "scale": {"domain": ["o","r","y"], "range": ["#ff8a1e","#f0141e","#eeee00"]}, "legend": null},
    "order": {"field": "c"}}},
  {"data": {"name": "lines"}, "transform": [{"filter": "datum.p == 'd'"}], "mark": {"type": "line", "color": "black", "strokeWidth": 2}, "encoding": {"x": {"field": "x", "type": "quantitative"}, "y": {"field": "y", "type": "quantitative"}}},
  {"data": {"values": [{}]}, "mark": {"type": "rect", "fill": "white", "stroke": "#888888", "strokeWidth": 1}, "encoding": {"x": {"datum": -78.1}, "x2": {"datum": -68.4}, "y": {"datum": -1.84}, "y2": {"datum": -3.64}}},
  {"data": {"values": [{}]}, "mark": {"type": "text", "fontSize": 23, "baseline": "middle", "align": "center", "color": "black"}, "encoding": {"x": {"datum": -73.25}, "y": {"datum": -2.76}, "text": {"value": "d"}}}
 ]},
{"title": "24-hr slope change U45 to CCT; correlation: -0.466", "width": 512, "height": 128,
 "layer": [
  {"data": {"name": "pts"}, "transform": [{"filter": "datum.p == 'e'"}],
   "mark": {"type": "point", "shape": "cross", "angle": 45, "filled": true, "size": 60, "opacity": 1},
   "encoding": {"x": {"field": "x", "type": "quantitative", "scale": {"domain": [-80, 80], "nice": false, "zero": false}, "axis": {"values": [-80,-60,-40,-20,0,20,40,60,80], "tickCount": 20, "title": "24-h intensity change (kts)", "labelOverlap": false, "labelExpr": "'' + datum.value"}},
    "y": {"field": "y", "type": "quantitative", "scale": {"domain": [-0.5, 0.5], "nice": false, "zero": false}, "axis": {"values": [0.5,0,-0.5], "tickCount": 20, "title": ["24-h slope change", "(K per km)"], "labelOverlap": false, "labelExpr": "'' + datum.value"}},
    "color": {"field": "c", "type": "nominal", "scale": {"domain": ["o","r","y"], "range": ["#ff8a1e","#f0141e","#eeee00"]}, "legend": null},
    "order": {"field": "c"}}},
  {"data": {"name": "lines"}, "transform": [{"filter": "datum.p == 'e'"}], "mark": {"type": "line", "color": "black", "strokeWidth": 2}, "encoding": {"x": {"field": "x", "type": "quantitative"}, "y": {"field": "y", "type": "quantitative"}}},
  {"data": {"values": [{}]}, "mark": {"type": "rect", "fill": "white", "stroke": "#888888", "strokeWidth": 1}, "encoding": {"x": {"datum": -78.1}, "x2": {"datum": -68.4}, "y": {"datum": -0.23}, "y2": {"datum": -0.455}}},
  {"data": {"values": [{}]}, "mark": {"type": "text", "fontSize": 23, "baseline": "middle", "align": "center", "color": "black"}, "encoding": {"x": {"datum": -73.25}, "y": {"datum": -0.345}, "text": {"value": "e"}}}
 ]},
{"title": "24-hr slope change FOT to CCT; correlation: -0.532", "width": 512, "height": 128,
 "layer": [
  {"data": {"name": "pts"}, "transform": [{"filter": "datum.p == 'f'"}],
   "mark": {"type": "point", "shape": "cross", "angle": 45, "filled": true, "size": 60, "opacity": 1},
   "encoding": {"x": {"field": "x", "type": "quantitative", "scale": {"domain": [-80, 80], "nice": false, "zero": false}, "axis": {"values": [-80,-60,-40,-20,0,20,40,60,80], "tickCount": 20, "title": "24-h intensity change (kts)", "labelOverlap": false, "labelExpr": "'' + datum.value"}},
    "y": {"field": "y", "type": "quantitative", "scale": {"domain": [-1.5, 1.5], "nice": false, "zero": false}, "axis": {"values": [1.5,0.5,-0.5,-1.5], "tickCount": 20, "title": ["24-h slope change", "(K per km)"], "labelOverlap": false, "labelExpr": "'' + datum.value"}},
    "color": {"field": "c", "type": "nominal", "scale": {"domain": ["o","r","y"], "range": ["#ff8a1e","#f0141e","#eeee00"]}, "legend": null},
    "order": {"field": "c"}}},
  {"data": {"name": "lines"}, "transform": [{"filter": "datum.p == 'f'"}], "mark": {"type": "line", "color": "black", "strokeWidth": 2}, "encoding": {"x": {"field": "x", "type": "quantitative"}, "y": {"field": "y", "type": "quantitative"}}},
  {"data": {"values": [{}]}, "mark": {"type": "rect", "fill": "white", "stroke": "#888888", "strokeWidth": 1}, "encoding": {"x": {"datum": -78.1}, "x2": {"datum": -68.4}, "y": {"datum": -0.69}, "y2": {"datum": -1.365}}},
  {"data": {"values": [{}]}, "mark": {"type": "text", "fontSize": 23, "baseline": "middle", "align": "center", "color": "black"}, "encoding": {"x": {"datum": -73.25}, "y": {"datum": -1.035}, "text": {"value": "f"}}}
 ]}
]
}
